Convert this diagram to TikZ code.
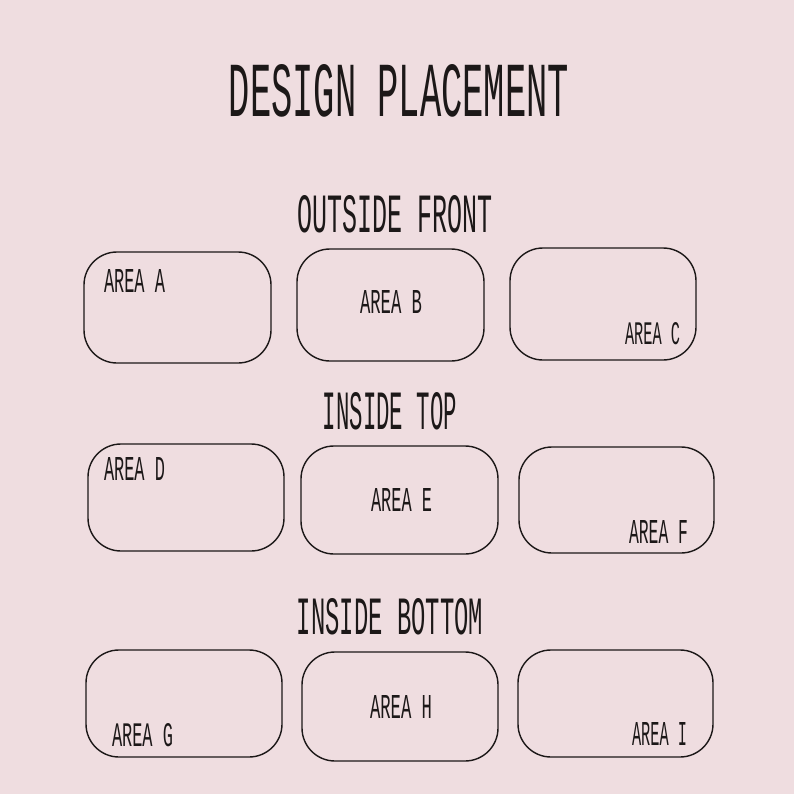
\documentclass[tikz,border=0pt]{standalone}
\usepackage{fontspec}
\usepackage{graphicx}
\setmainfont{Liberation Mono}
\definecolor{bgpink}{RGB}{239,221,224}
\definecolor{ink}{RGB}{28,24,24}
\newcommand\fitw[3]{\resizebox{#1pt}{#2pt}{#3}}
\tikzset{
  areabox/.style={draw=ink, line width=1.4pt, rounded corners=33pt, inner sep=0pt},
  lbl/.style={inner sep=0pt, text=ink, anchor=center},
}
\begin{document}
\begin{tikzpicture}[x=1pt,y=-1pt]
\fill[bgpink] (0,0) rectangle (794,794);
\useasboundingbox (0,0) rectangle (794,794);
% headings
\node[lbl] (title) at (399,91) {\fitw{340}{52}{DESIGN PLACEMENT}};
\node[lbl] (h1) at (395.5,214.5) {\fitw{195}{37}{OUTSIDE FRONT}};
\node[lbl] (h2) at (390,411.5) {\fitw{134}{37}{INSIDE TOP}};
\node[lbl] (h3) at (390,616.5) {\fitw{186}{36}{INSIDE BOTTOM}};
% boxes
\node[areabox, minimum width=187pt, minimum height=111pt] (A) at (177.5,307.5) {};
\node[areabox, minimum width=187pt, minimum height=112pt] (B) at (390.5,305) {};
\node[areabox, minimum width=186pt, minimum height=112pt] (C) at (603,304) {};
\node[areabox, minimum width=196pt, minimum height=107pt] (D) at (186,497.5) {};
\node[areabox, minimum width=197pt, minimum height=108pt] (E) at (399.5,500) {};
\node[areabox, minimum width=195pt, minimum height=106pt] (F) at (616.5,500) {};
\node[areabox, minimum width=196pt, minimum height=107pt] (G) at (184,703.5) {};
\node[areabox, minimum width=196pt, minimum height=109pt] (H) at (400,706.5) {};
\node[areabox, minimum width=195pt, minimum height=107pt] (I) at (615.5,703.5) {};
% labels
\node[lbl] (la) at (134.5,280.5) {\fitw{61}{23}{AREA A}};
\node[lbl] (lb) at (391,301.5) {\fitw{62}{23}{AREA B}};
\node[lbl] (lc) at (652.5,334) {\fitw{55}{22}{AREA C}};
\node[lbl] (ld) at (134.5,468.5) {\fitw{61}{23}{AREA D}};
\node[lbl] (le) at (401.5,499.5) {\fitw{61}{23}{AREA E}};
\node[lbl] (lf) at (658.5,531.5) {\fitw{59}{23}{AREA F}};
\node[lbl] (lg) at (142.5,735) {\fitw{61}{23}{AREA G}};
\node[lbl] (lh) at (401,706.5) {\fitw{62}{23}{AREA H}};
\node[lbl] (li) at (659.5,734) {\fitw{55}{23}{AREA I}};
\end{tikzpicture}
\end{document}
